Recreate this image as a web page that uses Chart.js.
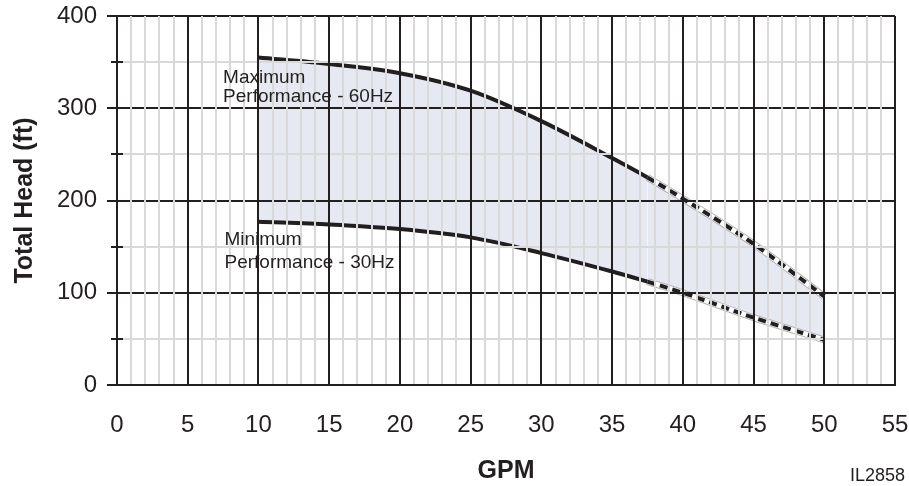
<!DOCTYPE html>
<html>
<head>
<meta charset="utf-8">
<title>Pump Performance Range</title>
<script src="https://cdn.jsdelivr.net/npm/chart.js@4/dist/chart.umd.min.js"></script>
<style>
  html, body { margin: 0; padding: 0; background: #ffffff; }
  #wrap { width: 909px; height: 486px; }
</style>
</head>
<body>
<div id="wrap"><canvas id="chart" width="909" height="486"></canvas></div>
<script>
// Flow rate (GPM) and head (ft) for the pump's operating envelope
const gpm     = [10, 15, 20, 25, 30, 35, 37.5, 40, 45, 50];
const maxHead = [355, 348, 338, 319, 286, 246, 225, 202, 153, 96];   // 60 Hz
const minHead = [177, 174, 169, 160, 143, 123, 112, 100, 73, 49];    // 30 Hz

// Axis ranges and labelled ticks
const xTickLabels = [0, 5, 10, 15, 20, 25, 30, 35, 40, 45, 50, 55];
const yTickLabels = [0, 100, 200, 300, 400];

// Beyond this flow the curves are drawn as extrapolated (dashed, outlined)
const extrapolatedFrom = 37.5;

const INK   = '#231f20';
const LIGHT = '#d9d9d9';
const FILL  = '#e6e9f2';
const HALO  = '#b4b4b4';
const FONT  = "'Liberation Sans', Arial, Helvetica, sans-serif";

const curveNotes = [
  { lines: ['Maximum', 'Performance - 60Hz'], x: 7.5, y: 327, step: 19 },
  { lines: ['Minimum', 'Performance - 30Hz'], x: 7.6, y: 152, step: 23 }
];

const toPoints = ys => gpm.map((x, i) => ({ x: x, y: ys[i] }));
const isTail = ctx => ctx.p0.parsed.x >= extrapolatedFrom;

function curve(ys, extra) {
  return Object.assign({
    data: toPoints(ys),
    pointRadius: 0,
    pointHoverRadius: 0,
    cubicInterpolationMode: 'monotone',
    borderCapStyle: 'butt',
    fill: false
  }, extra);
}

function halo(ys, color, width, order) {
  return curve(ys, {
    borderColor: 'transparent',
    borderWidth: width,
    order: order,
    segment: { borderColor: ctx => isTail(ctx) ? color : 'transparent' }
  });
}

const mainStyle = {
  borderColor: INK,
  borderWidth: 4,
  order: 1,
  segment: { borderDash: ctx => isTail(ctx) ? [8, 5] : [] }
};

// Minor tick marks on the head axis straddle the axis line
const minorTicks = {
  id: 'minorTicks',
  afterDraw(chart) {
    const y = chart.scales.y;
    const ctx = chart.ctx;
    ctx.save();
    ctx.strokeStyle = INK;
    ctx.lineWidth = 2;
    y.ticks.forEach(t => {
      if (t.value % 100 !== 0) {
        const py = Math.round(y.getPixelForValue(t.value));
        ctx.beginPath();
        ctx.moveTo(y.right - 6, py);
        ctx.lineTo(y.right + 6, py);
        ctx.stroke();
      }
    });
    ctx.restore();
  }
};

// Curve captions and drawing number
const captions = {
  id: 'captions',
  afterDraw(chart) {
    const { ctx, scales: { x, y } } = chart;
    ctx.save();
    ctx.fillStyle = INK;
    ctx.textBaseline = 'alphabetic';
    ctx.textAlign = 'left';
    ctx.font = '19px ' + FONT;
    curveNotes.forEach(n => {
      const px = x.getPixelForValue(n.x);
      const py = y.getPixelForValue(n.y);
      n.lines.forEach((line, i) => ctx.fillText(line, px, py + i * n.step));
    });
    ctx.font = '18px ' + FONT;
    ctx.textAlign = 'right';
    ctx.textBaseline = 'middle';
    ctx.fillText('IL2858', chart.width - 4, chart.height - 10);
    ctx.restore();
  }
};

new Chart(document.getElementById('chart'), {
  type: 'line',
  data: {
    datasets: [
      curve(maxHead, Object.assign({ label: 'Maximum Performance - 60Hz', fill: 1, backgroundColor: FILL }, mainStyle)),
      curve(minHead, Object.assign({ label: 'Minimum Performance - 30Hz' }, mainStyle)),
      halo(maxHead, HALO, 7, 3),
      halo(maxHead, '#ffffff', 5, 2),
      halo(minHead, HALO, 7, 3),
      halo(minHead, '#ffffff', 5, 2)
    ]
  },
  options: {
    responsive: false,
    animation: false,
    events: [],
    layout: { padding: { top: 16, right: 14, left: 0, bottom: 0 } },
    plugins: {
      legend: { display: false },
      tooltip: { enabled: false },
      filler: { drawTime: 'beforeDatasetsDraw' }
    },
    scales: {
      x: {
        type: 'linear',
        min: xTickLabels[0],
        max: xTickLabels[xTickLabels.length - 1],
        afterFit: s => { s.height = 101; s.paddingLeft = 0; s.paddingRight = 0; },
        ticks: {
          stepSize: 1,
          autoSkip: false,
          maxRotation: 0,
          padding: 26,
          color: INK,
          font: { family: FONT, size: 24 },
          callback: v => xTickLabels.includes(v) ? String(v) : ''
        },
        grid: {
          z: 2,
          drawTicks: false,
          lineWidth: 2,
          color: ctx => (ctx.tick && ctx.tick.value % 5 === 0) ? INK : LIGHT
        },
        border: { display: true, color: INK, width: 2, z: 2 },
        title: {
          display: true,
          text: 'GPM',
          color: INK,
          font: { family: FONT, size: 25, weight: 'bold' },
          padding: { top: 0, bottom: 0 }
        }
      },
      y: {
        type: 'linear',
        min: yTickLabels[0],
        max: yTickLabels[yTickLabels.length - 1],
        afterFit: s => { s.width = 117; s.paddingTop = 0; s.paddingBottom = 0; },
        ticks: {
          stepSize: 50,
          padding: 10,
          color: INK,
          font: { family: FONT, size: 24 },
          callback: v => yTickLabels.includes(v) ? String(v) : ''
        },
        grid: {
          z: 1,
          drawTicks: true,
          tickLength: 10,
          lineWidth: 2,
          color: ctx => (ctx.tick && ctx.tick.value % 100 === 0) ? INK : LIGHT,
          tickColor: ctx => (ctx.tick && ctx.tick.value % 100 === 0) ? INK : 'transparent'
        },
        border: { display: true, color: INK, width: 2, z: 1 },
        title: {
          display: true,
          text: 'Total Head (ft)',
          color: INK,
          font: { family: FONT, size: 25, weight: 'bold' },
          padding: { top: 10, bottom: 0 }
        }
      }
    }
  },
  plugins: [minorTicks, captions]
});
</script>
</body>
</html>
